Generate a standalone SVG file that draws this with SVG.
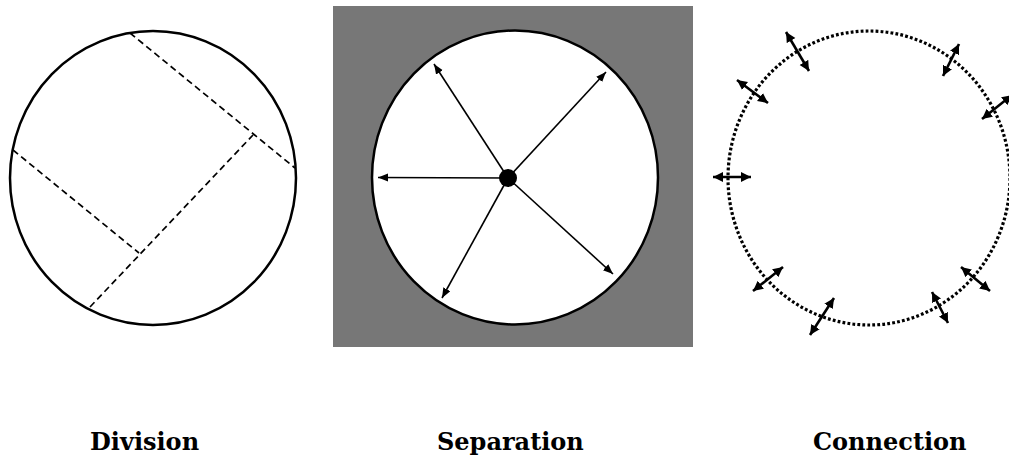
<svg xmlns="http://www.w3.org/2000/svg" width="1009" height="455" viewBox="0 0 1009 455">
  <style>
    .ring { fill: none; stroke: #000; stroke-width: 2.5; }
    .dash { fill: none; stroke: #000; stroke-width: 1.7; stroke-dasharray: 6.5 4; }
    .ray { stroke: #000; stroke-width: 1.6; marker-end: url(#headS); }
    .conn { stroke: #000; stroke-width: 2.6; marker-start: url(#headC); marker-end: url(#headC); }
    .dots { fill: none; stroke: #000; stroke-width: 3.2; stroke-dasharray: 2.8 2.2; }
    .label { font-family: "DejaVu Serif", serif; font-weight: bold; font-size: 24px; fill: #000; }
  </style>
  <defs>
    <marker id="headS" markerUnits="userSpaceOnUse" markerWidth="12" markerHeight="10" refX="10" refY="4" orient="auto">
      <path d="M0,0 L10,4 L0,8 z" fill="#000"/>
    </marker>
    <marker id="headC" markerUnits="userSpaceOnUse" markerWidth="12" markerHeight="12" refX="10" refY="5" orient="auto-start-reverse">
      <path d="M0,0 L10,5 L0,10 z" fill="#000"/>
    </marker>
  </defs>
  <rect width="1009" height="455" fill="#fff"/>

  <g id="division">
    <ellipse class="ring" cx="153" cy="178" rx="143" ry="147"/>
    <line class="dash" x1="130" y1="33" x2="295" y2="168"/>
    <line class="dash" x1="13" y1="150" x2="139" y2="253"/>
    <line class="dash" x1="90" y1="307" x2="253" y2="135"/>
  </g>

  <g id="separation">
    <rect x="333" y="6" width="360" height="341" fill="#777777"/>
    <ellipse cx="515" cy="177.5" rx="143" ry="147" fill="#fff" stroke="#000" stroke-width="2.5"/>
    <circle cx="508" cy="178" r="9" fill="#000"/>
  </g>

  <g id="connection">
    <ellipse class="dots" cx="869" cy="178" rx="141" ry="147"/>
  </g>

  <g id="connectors">
    <line class="ray" x1="508" y1="178" x2="378" y2="177.5"/>
    <line class="ray" x1="508" y1="178" x2="434" y2="64"/>
    <line class="ray" x1="508" y1="178" x2="606" y2="72"/>
    <line class="ray" x1="508" y1="178" x2="613" y2="274"/>
    <line class="ray" x1="508" y1="178" x2="442" y2="298"/>

    <line class="conn" x1="786" y1="32" x2="809" y2="71"/>
    <line class="conn" x1="737" y1="80" x2="768" y2="103"/>
    <line class="conn" x1="713" y1="177" x2="751" y2="177"/>
    <line class="conn" x1="753" y1="291" x2="783" y2="267"/>
    <line class="conn" x1="810" y1="335" x2="834" y2="298"/>
    <line class="conn" x1="932" y1="292" x2="948" y2="323"/>
    <line class="conn" x1="961" y1="267" x2="990" y2="291"/>
    <line class="conn" x1="943" y1="76" x2="959" y2="44"/>
    <line class="conn" x1="982" y1="119" x2="1012" y2="95"/>
  </g>

  <g id="labels">
    <text class="label" x="90" y="450">Division</text>
    <text class="label" x="437" y="450">Separation</text>
    <text class="label" x="813" y="450">Connection</text>
  </g>
</svg>
